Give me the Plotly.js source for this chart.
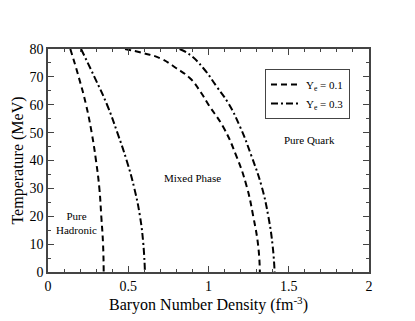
<!DOCTYPE html>
<html>
<head>
<meta charset="utf-8">
<script src="https://cdn.plot.ly/plotly-3.0.1.min.js"></script>
</head>
<body style="margin:0">
<div id="chart"></div>
<script>
// Ye = 0.1 : hadronic edge and quark edge, T in MeV
const hadronTemps01 = [80, 70, 60, 50, 40, 30, 20, 10, 0];
const hadronEdge01 = [0.139, 0.191, 0.237, 0.272, 0.299, 0.320, 0.332, 0.343, 0.347];
const quarkTemps01 = [80, 78.5, 76.7, 73.1, 69.5, 64.2, 60, 52, 41.4, 30.7, 19.9, 9.2, 0];
const quarkEdge01 = [0.48, 0.594, 0.698, 0.80, 0.885, 0.955, 1.0, 1.092, 1.175, 1.238, 1.279, 1.31, 1.32];

// Ye = 0.3
const hadronTemps03 = [80, 70, 60, 50, 40, 30, 20, 10, 0];
const hadronEdge03 = [0.206, 0.289, 0.368, 0.432, 0.490, 0.538, 0.573, 0.594, 0.604];
const quarkTemps03 = [80, 77.9, 73.1, 66.5, 60.6, 52.2, 41.4, 30.7, 19.9, 9.2, 0];
const quarkEdge03 = [0.82, 0.885, 0.968, 1.051, 1.123, 1.196, 1.269, 1.331, 1.373, 1.40, 1.412];

var fontName = 'Liberation Serif';

function curve(x, y, dash, name, show) {
    return {
        type: 'scatter',
        mode: 'lines',
        x: x,
        y: y,
        name: name,
        legendgroup: name,
        showlegend: show,
        line: { color: 'black', width: 2, dash: dash, shape: 'spline', smoothing: 1.3 }
    };
}

var traces = [
    curve(hadronEdge01, hadronTemps01, '6px,4px', 'Y<sub>e</sub> = 0.1', true),
    curve(quarkEdge01, quarkTemps01, '6px,4px', 'Y<sub>e</sub> = 0.1', false),
    curve(hadronEdge03, hadronTemps03, '7px,3px,2px,3px', 'Y<sub>e</sub> = 0.3', true),
    curve(quarkEdge03, quarkTemps03, '7px,3px,2px,3px', 'Y<sub>e</sub> = 0.3', false)
];

function axis(range, dtick, minorTick, titleText) {
    return {
        range: range,
        dtick: dtick,
        ticks: 'inside',
        ticklen: 6,
        tickcolor: '#444',
        minor: { dtick: minorTick, ticks: 'inside', ticklen: 3, tickcolor: '#444' },
        showgrid: false,
        zeroline: false,
        showline: true,
        linecolor: '#444',
        linewidth: 1.5,
        mirror: 'allticks',
        tickfont: { family: fontName, size: 14, color: 'black' },
        title: { text: titleText, font: { family: fontName, size: 16, color: 'black' } }
    };
}

var xaxis = axis([0, 2], 0.5, 0.1, 'Baryon Number Density (fm<sup>-3</sup>)');
xaxis.title.standoff = 4;
var yaxis = axis([0, 80], 10, 5, 'Temperature (MeV)');
yaxis.title.standoff = 2;

var layout = {
    width: 415,
    height: 321,
    font: { family: fontName, size: 11, color: 'black' },
    margin: { l: 48, r: 46, t: 49, b: 49 },
    paper_bgcolor: 'white',
    plot_bgcolor: 'white',
    xaxis: xaxis,
    yaxis: yaxis,
    showlegend: true,
    legend: {
        x: 0.676,
        y: 0.91,
        xanchor: 'left',
        yanchor: 'top',
        bgcolor: 'white',
        bordercolor: '#444',
        borderwidth: 1,
        font: { family: fontName, size: 11, color: 'black' },
        itemwidth: 30,
        tracegroupgap: 0
    },
    annotations: [
        { x: 0.18, y: 17.5, text: 'Pure<br>Hadronic', showarrow: false, font: { family: fontName, size: 11 } },
        { x: 0.90, y: 33.8, text: 'Mixed Phase', showarrow: false, font: { family: fontName, size: 11 } },
        { x: 1.63, y: 47.4, text: 'Pure Quark', showarrow: false, font: { family: fontName, size: 11 } }
    ]
};

Plotly.newPlot('chart', traces, layout, { displayModeBar: false });
</script>
</body>
</html>
